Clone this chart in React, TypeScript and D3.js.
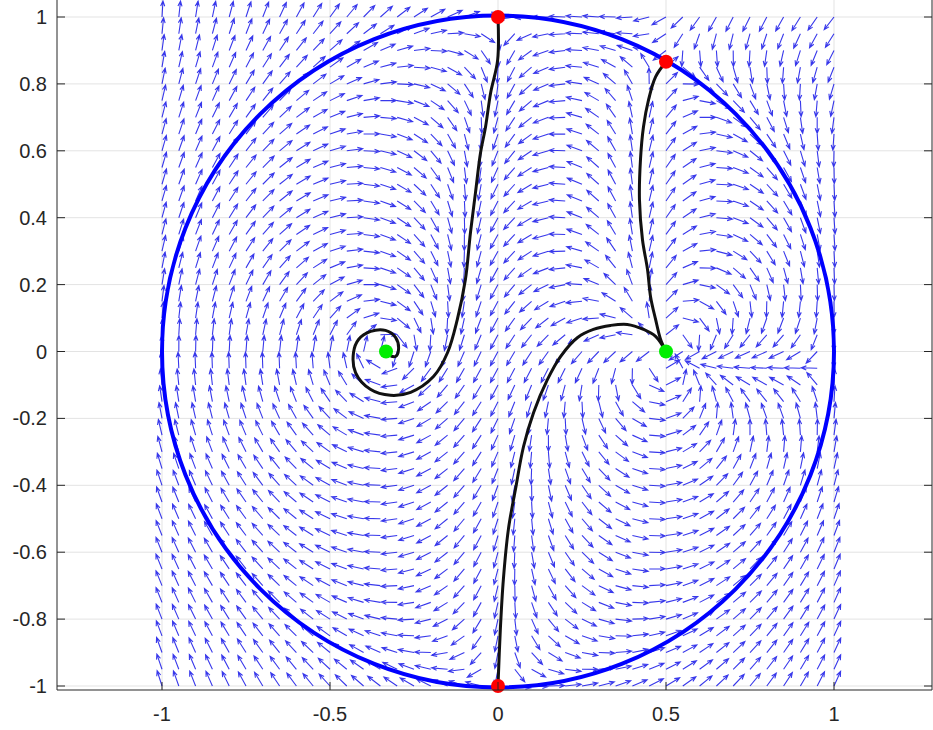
import React, { useEffect, useRef } from 'react';
import * as d3 from 'd3';

const WIDTH = 933;
const HEIGHT = 730;

// singular points of the flow (zeros: sink spiral and the
// double point at 0.5, plus two far ones that bend the outer field; poles: the
// saddle-like points on the circle)
const fieldZeros: [number, number][] = [[-1 / 3, 0], [0.5, 0], [0.5, 0], [1.3, 0], [-4, 0]];
const fieldPoles: [number, number][] = [[0, 1], [0, -1], [0.5, 0.866], [1, -0.05]];
const fieldTurnDeg = 119;

// quiver grid
const gridValues = [
  -1, -0.95, -0.9, -0.85, -0.8, -0.75, -0.7, -0.65, -0.6, -0.55, -0.5, -0.45, -0.4, -0.35,
  -0.3, -0.25, -0.2, -0.15, -0.1, -0.05, 0, 0.05, 0.1, 0.15, 0.2, 0.25, 0.3, 0.35, 0.4,
  0.45, 0.5, 0.55, 0.6, 0.65, 0.7, 0.75, 0.8, 0.85, 0.9, 0.95, 1,
];

// trajectories (black)
const pathFromTop: [number, number][] = [
  [0, 1], [-0.001, 0.872], [-0.022, 0.773], [-0.037, 0.672], [-0.052, 0.594], [-0.067, 0.475],
  [-0.082, 0.355], [-0.097, 0.215], [-0.121, 0.096], [-0.15, -0.003], [-0.192, -0.075],
  [-0.26, -0.122], [-0.32, -0.131], [-0.38, -0.113], [-0.424, -0.063], [-0.43, -0.003],
  [-0.415, 0.036], [-0.379, 0.06], [-0.335, 0.063], [-0.305, 0.042], [-0.296, 0.006],
  [-0.305, -0.015], [-0.326, -0.009], [-0.333, 0],
];
const pathToUpper: [number, number][] = [
  [0.5, 0], [0.484, 0.036], [0.469, 0.096], [0.454, 0.164], [0.445, 0.245], [0.43, 0.334],
  [0.421, 0.454], [0.424, 0.573], [0.433, 0.672], [0.448, 0.752], [0.469, 0.821], [0.5, 0.866],
];
const pathToBottom: [number, number][] = [
  [0.5, 0], [0.469, 0.045], [0.433, 0.066], [0.385, 0.081], [0.335, 0.078], [0.284, 0.066],
  [0.237, 0.042], [0.186, -0.015], [0.147, -0.084], [0.106, -0.182], [0.076, -0.284],
  [0.052, -0.412], [0.031, -0.531], [0.016, -0.681], [0.007, -0.83], [0, -1],
];

const redPoints: [number, number][] = [[0, 1], [0.5, 0.866], [0, -1]];
const greenPoints: [number, number][] = [[-1 / 3, 0], [0.5, 0]];

const xTicks = [-1, -0.5, 0, 0.5, 1];
const xTickLabels = ['-1', '-0.5', '0', '0.5', '1'];
const yTicks = [-1, -0.8, -0.6, -0.4, -0.2, 0, 0.2, 0.4, 0.6, 0.8, 1];
const yTickLabels = ['-1', '-0.8', '-0.6', '-0.4', '-0.2', '0', '0.2', '0.4', '0.6', '0.8', '1'];

function field(x: number, y: number): [number, number] {
  let re = Math.cos((fieldTurnDeg * Math.PI) / 180);
  let im = Math.sin((fieldTurnDeg * Math.PI) / 180);
  fieldZeros.forEach(([a, b]) => {
    const u = x - a, v = y - b;
    const r = re * u - im * v;
    im = re * v + im * u;
    re = r;
  });
  fieldPoles.forEach(([a, b]) => {
    const u = x - a, v = y - b;
    const d = u * u + v * v;
    const r = (re * u + im * v) / d;
    im = (im * u - re * v) / d;
    re = r;
  });
  return [re, im];
}

export default function App() {
  const ref = useRef<SVGSVGElement>(null);

  useEffect(() => {
    const svg = d3.select(ref.current);
    svg.selectAll('*').remove();

    const x = d3.scaleLinear().domain([-1, 1]).range([162, 834]);
    const y = d3.scaleLinear().domain([-1, 1]).range([686, 17]);
    const left = 57, right = 932, bottom = 690, top = 0;

    // grid
    const grid = svg.append('g').attr('stroke', '#e3e3e3').attr('stroke-width', 1);
    yTicks.forEach((t) => {
      grid.append('line').attr('x1', left).attr('x2', right).attr('y1', y(t)).attr('y2', y(t));
    });
    xTicks.forEach((t) => {
      grid.append('line').attr('x1', x(t)).attr('x2', x(t)).attr('y1', top).attr('y2', bottom);
    });

    // quiver (unit-length arrows)
    const len = 16;
    const head = 5.5;
    const arrows: string[] = [];
    gridValues.forEach((gx) => {
      gridValues.forEach((gy) => {
        const [u, v] = field(gx, gy);
        const m = Math.hypot(u, v);
        if (!isFinite(m) || m === 0) return;
        const dx = u / m, dy = -v / m;
        const x0 = x(gx), y0 = y(gy);
        const x1 = x0 + dx * len, y1 = y0 + dy * len;
        const a = Math.atan2(dy, dx);
        const h1x = x1 - head * Math.cos(a - 0.38), h1y = y1 - head * Math.sin(a - 0.38);
        const h2x = x1 - head * Math.cos(a + 0.38), h2y = y1 - head * Math.sin(a + 0.38);
        arrows.push(`M${x0},${y0}L${x1},${y1}M${h1x},${h1y}L${x1},${y1}L${h2x},${h2y}`);
      });
    });
    svg.append('path')
      .attr('d', arrows.join(''))
      .attr('fill', 'none')
      .attr('stroke', '#1515e8')
      .attr('stroke-opacity', 0.85)
      .attr('stroke-width', 1.1);

    // unit circle
    svg.append('circle')
      .attr('cx', x(0)).attr('cy', y(0))
      .attr('r', x(1) - x(0))
      .attr('fill', 'none')
      .attr('stroke', '#0000ff')
      .attr('stroke-width', 4);

    const line = d3.line<[number, number]>()
      .x((d) => x(d[0]))
      .y((d) => y(d[1]))
      .curve(d3.curveCatmullRom);
    [pathFromTop, pathToUpper, pathToBottom].forEach((p) => {
      svg.append('path')
        .attr('d', line(p))
        .attr('fill', 'none')
        .attr('stroke', '#111')
        .attr('stroke-width', 3);
    });

    svg.selectAll('circle.red').data(redPoints).enter().append('circle')
      .attr('class', 'red')
      .attr('cx', (d) => x(d[0])).attr('cy', (d) => y(d[1])).attr('r', 7)
      .attr('fill', '#ff0000');
    svg.selectAll('circle.green').data(greenPoints).enter().append('circle')
      .attr('class', 'green')
      .attr('cx', (d) => x(d[0])).attr('cy', (d) => y(d[1])).attr('r', 7)
      .attr('fill', '#00ee00');

    // axes box
    const ax = svg.append('g').attr('stroke', '#262626').attr('stroke-width', 1).attr('fill', 'none');
    ax.append('path').attr('d', `M${left},${top}V${bottom}H${right}V${top}`);
    const tick = 8;
    yTicks.forEach((t) => {
      ax.append('line').attr('x1', left).attr('x2', left + tick).attr('y1', y(t)).attr('y2', y(t));
      ax.append('line').attr('x1', right).attr('x2', right - tick).attr('y1', y(t)).attr('y2', y(t));
    });
    xTicks.forEach((t) => {
      ax.append('line').attr('x1', x(t)).attr('x2', x(t)).attr('y1', bottom).attr('y2', bottom - tick);
    });

    const labels = svg.append('g')
      .attr('font-family', 'Liberation Sans, Arial, sans-serif')
      .attr('font-size', 20)
      .attr('fill', '#262626');
    yTicks.forEach((t, i) => {
      labels.append('text')
        .attr('x', 47).attr('y', y(t))
        .attr('text-anchor', 'end')
        .attr('dominant-baseline', 'central')
        .text(yTickLabels[i]);
    });
    xTicks.forEach((t, i) => {
      labels.append('text')
        .attr('x', x(t)).attr('y', 714)
        .attr('text-anchor', 'middle')
        .attr('dominant-baseline', 'central')
        .text(xTickLabels[i]);
    });
  }, []);

  return (
    <svg ref={ref} width={WIDTH} height={HEIGHT}
      style={{ position: 'absolute', left: 0, top: 0, background: '#fff' }} />
  );
}
